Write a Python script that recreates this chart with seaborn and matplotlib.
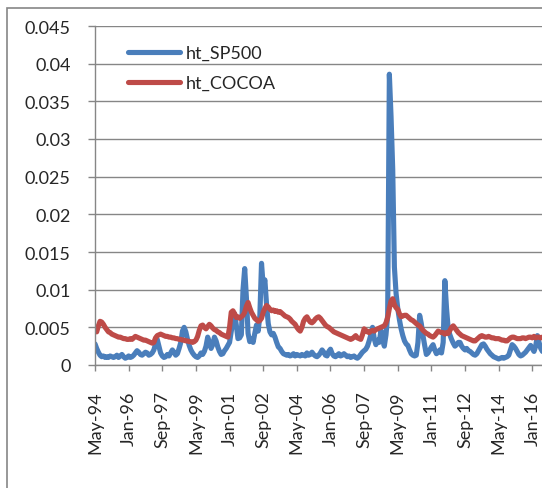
import numpy as np
import pandas as pd
import matplotlib
matplotlib.use("Agg")
import matplotlib.pyplot as plt
import seaborn as sns
from matplotlib.patches import Rectangle

sns.set_style("white")
plt.rcParams["font.family"] = ["Lato", "DejaVu Sans"]

# monthly observations, May-1994 onward
dates = pd.date_range("1994-05-01", periods=267, freq="MS")

ht_SP500 = [
    0.0028, 0.0022, 0.0017, 0.0013, 0.0011, 0.0012, 0.0010, 0.0011, 0.0010, 0.0012, 0.0011, 0.0010,
    0.0011, 0.0013, 0.0010, 0.0012, 0.0014, 0.0011, 0.0009, 0.0010, 0.0012, 0.0010, 0.0011, 0.0013,
    0.0016, 0.0019, 0.0017, 0.0014, 0.0013, 0.0015, 0.0017, 0.0016, 0.0013, 0.0014, 0.0016, 0.0020,
    0.0028, 0.0034, 0.0025, 0.0016, 0.0012, 0.0010, 0.0011, 0.0014, 0.0012, 0.0016, 0.0020, 0.0017,
    0.0013, 0.0015, 0.0022, 0.0030, 0.0045, 0.0050, 0.0044, 0.0034, 0.0026, 0.0020, 0.0016, 0.0013,
    0.0011, 0.0010, 0.0012, 0.0016, 0.0014, 0.0018, 0.0025, 0.0037, 0.0030, 0.0022, 0.0027, 0.0037,
    0.0032, 0.0024, 0.0018, 0.0014, 0.0015, 0.0019, 0.0022, 0.0026, 0.0030, 0.0045, 0.0059, 0.0068,
    0.0053, 0.0035, 0.0036, 0.0040, 0.0100, 0.0128, 0.0090, 0.0042, 0.0031, 0.0035, 0.0030, 0.0042,
    0.0053, 0.0045, 0.0065, 0.0135, 0.0105, 0.0113, 0.0080, 0.0055, 0.0044, 0.0040, 0.0042, 0.0037,
    0.0030, 0.0024, 0.0022, 0.0018, 0.0015, 0.0014, 0.0013, 0.0014, 0.0012, 0.0013, 0.0015, 0.0012,
    0.0014, 0.0013, 0.0012, 0.0014, 0.0013, 0.0012, 0.0016, 0.0013, 0.0014, 0.0017, 0.0014, 0.0012,
    0.0011, 0.0013, 0.0016, 0.0020, 0.0017, 0.0013, 0.0012, 0.0018, 0.0021, 0.0015, 0.0012, 0.0011,
    0.0013, 0.0015, 0.0012, 0.0013, 0.0015, 0.0013, 0.0011, 0.0012, 0.0010, 0.0011, 0.0012, 0.0010,
    0.0009, 0.0011, 0.0014, 0.0017, 0.0019, 0.0021, 0.0025, 0.0032, 0.0040, 0.0050, 0.0035, 0.0027,
    0.0033, 0.0030, 0.0046, 0.0035, 0.0025, 0.0040, 0.0066, 0.0386, 0.0330, 0.0260, 0.0130, 0.0095,
    0.0075, 0.0060, 0.0048, 0.0039, 0.0032, 0.0028, 0.0026, 0.0020, 0.0015, 0.0013, 0.0012, 0.0013,
    0.0030, 0.0066, 0.0055, 0.0039, 0.0026, 0.0014, 0.0016, 0.0020, 0.0024, 0.0027, 0.0020, 0.0015,
    0.0017, 0.0020, 0.0016, 0.0030, 0.0112, 0.0075, 0.0048, 0.0040, 0.0034, 0.0029, 0.0025, 0.0027,
    0.0030, 0.0030, 0.0025, 0.0022, 0.0020, 0.0022, 0.0019, 0.0018, 0.0016, 0.0014, 0.0013, 0.0015,
    0.0019, 0.0023, 0.0027, 0.0028, 0.0025, 0.0021, 0.0018, 0.0015, 0.0013, 0.0011, 0.0010, 0.0009,
    0.0008, 0.0009, 0.0010, 0.0009, 0.0010, 0.0011, 0.0013, 0.0020, 0.0027, 0.0025, 0.0022, 0.0018,
    0.0014, 0.0012, 0.0013, 0.0015, 0.0017, 0.0020, 0.0023, 0.0026, 0.0022, 0.0018, 0.0025, 0.0039,
    0.0030, 0.0022, 0.0018,
]

ht_COCOA = [
    0.0046, 0.0044, 0.0052, 0.0058, 0.0057, 0.0054, 0.0050, 0.0047, 0.0044, 0.0043, 0.0041, 0.0040,
    0.0039, 0.0038, 0.0037, 0.0037, 0.0036, 0.0035, 0.0035, 0.0034, 0.0034, 0.0035, 0.0034, 0.0036,
    0.0038, 0.0037, 0.0036, 0.0035, 0.0034, 0.0033, 0.0033, 0.0032, 0.0031, 0.0030, 0.0029, 0.0030,
    0.0036, 0.0039, 0.0040, 0.0041, 0.0040, 0.0039, 0.0038, 0.0038, 0.0037, 0.0037, 0.0036, 0.0036,
    0.0035, 0.0035, 0.0034, 0.0034, 0.0033, 0.0033, 0.0032, 0.0032, 0.0031, 0.0031, 0.0030, 0.0031,
    0.0033, 0.0038, 0.0046, 0.0052, 0.0053, 0.0050, 0.0048, 0.0051, 0.0054, 0.0052, 0.0049, 0.0047,
    0.0046, 0.0044, 0.0043, 0.0041, 0.0040, 0.0039, 0.0038, 0.0037, 0.0050, 0.0070, 0.0072, 0.0068,
    0.0063, 0.0064, 0.0062, 0.0064, 0.0066, 0.0070, 0.0078, 0.0083, 0.0076, 0.0070, 0.0066, 0.0062,
    0.0060, 0.0058, 0.0059, 0.0062, 0.0070, 0.0075, 0.0079, 0.0077, 0.0074, 0.0072, 0.0073, 0.0071,
    0.0072, 0.0070, 0.0071, 0.0069, 0.0067, 0.0065, 0.0064, 0.0063, 0.0061, 0.0058, 0.0056, 0.0054,
    0.0050, 0.0047, 0.0045, 0.0050, 0.0058, 0.0062, 0.0064, 0.0060, 0.0057, 0.0056, 0.0058, 0.0061,
    0.0063, 0.0064, 0.0062, 0.0059, 0.0056, 0.0053, 0.0051, 0.0050, 0.0048, 0.0046, 0.0044, 0.0043,
    0.0042, 0.0041, 0.0040, 0.0039, 0.0038, 0.0037, 0.0036, 0.0035, 0.0034, 0.0035, 0.0037, 0.0039,
    0.0036, 0.0035, 0.0034, 0.0040, 0.0048, 0.0046, 0.0044, 0.0043, 0.0045, 0.0046, 0.0045, 0.0047,
    0.0048, 0.0049, 0.0050, 0.0051, 0.0052, 0.0056, 0.0063, 0.0075, 0.0085, 0.0088, 0.0080, 0.0076,
    0.0074, 0.0068, 0.0064, 0.0065, 0.0066, 0.0066, 0.0064, 0.0062, 0.0060, 0.0059, 0.0057, 0.0055,
    0.0053, 0.0052, 0.0049, 0.0046, 0.0044, 0.0042, 0.0041, 0.0039, 0.0038, 0.0037, 0.0039, 0.0042,
    0.0045, 0.0044, 0.0043, 0.0043, 0.0041, 0.0043, 0.0042, 0.0046, 0.0050, 0.0052, 0.0049, 0.0046,
    0.0043, 0.0041, 0.0039, 0.0038, 0.0037, 0.0036, 0.0035, 0.0034, 0.0033, 0.0032, 0.0032, 0.0034,
    0.0036, 0.0038, 0.0039, 0.0038, 0.0037, 0.0037, 0.0038, 0.0037, 0.0036, 0.0036, 0.0035, 0.0035,
    0.0035, 0.0034, 0.0033, 0.0033, 0.0032, 0.0032, 0.0034, 0.0036, 0.0037, 0.0037, 0.0036, 0.0035,
    0.0035, 0.0035, 0.0036, 0.0036, 0.0035, 0.0036, 0.0037, 0.0037, 0.0036, 0.0038, 0.0036, 0.0037,
    0.0037, 0.0036, 0.0037,
]

tick_labels = ["May-94", "Jan-96", "Sep-97", "May-99", "Jan-01", "Sep-02", "May-04",
               "Jan-06", "Sep-07", "May-09", "Jan-11", "Sep-12", "May-14", "Jan-16"]
y_ticks = [0, 0.005, 0.01, 0.015, 0.02, 0.025, 0.03, 0.035, 0.04, 0.045]
y_tick_labels = ["0", "0.005", "0.01", "0.015", "0.02", "0.025", "0.03", "0.035", "0.04", "0.045"]

n = len(dates)
month_idx = np.arange(n)
df = pd.DataFrame({
    "month": np.concatenate([month_idx, month_idx]),
    "value": ht_SP500[:n] + ht_COCOA[:n],
    "series": ["ht_SP500"] * n + ["ht_COCOA"] * n,
})

W, H = 542, 489
fig = plt.figure(figsize=(W / 100, H / 100), dpi=100)
fig.patch.set_facecolor("white")

px_per_month = 1.682
ax = fig.add_axes([95 / W, 123 / H, (W - 95) / W, 339 / H])
sns.lineplot(data=df, x="month", y="value", hue="series",
             palette={"ht_SP500": "#4A7EBB", "ht_COCOA": "#BE4B48"},
             linewidth=3.7, ax=ax, legend=True)

ax.set_xlim(0, (W - 95) / px_per_month)
ax.set_ylim(0, 0.045)
ax.set_yticks(y_ticks)
ax.set_yticklabels(y_tick_labels)
ax.set_xticks(np.arange(0, n, 20)[:len(tick_labels)])
ax.set_xticklabels(tick_labels, rotation=90)
ax.set_xlabel("")
ax.set_ylabel("")

grid_c = "#868686"
ax.yaxis.grid(True, color=grid_c, linewidth=1.0)
ax.xaxis.grid(False)
ax.set_axisbelow(True)
for s in ["top", "right"]:
    ax.spines[s].set_visible(False)
for s in ["left", "bottom"]:
    ax.spines[s].set_color(grid_c)
    ax.spines[s].set_linewidth(1.0)
ax.tick_params(axis="y", direction="out", length=5, width=1, color=grid_c,
               pad=12.5, labelsize=13, left=True)
ax.tick_params(axis="x", direction="out", length=4.3, width=1, color=grid_c,
               pad=14, labelsize=13, bottom=True)

old = ax.get_legend()
handles = old.legend_handles
labels = [t.get_text() for t in old.get_texts()]
old.remove()
leg = ax.legend(handles, labels, loc="upper left",
                bbox_to_anchor=(128 / W, (H - 46) / H), bbox_transform=fig.transFigure,
                frameon=False, fontsize=13, handlelength=2.9, handletextpad=0.3,
                labelspacing=0.78, borderpad=0, borderaxespad=0)
for h in leg.legend_handles:
    h.set_linewidth(3.7)

fig.add_artist(Rectangle((7 / W, -0.5), 2.0, (H - 9) / H + 0.5,
                         transform=fig.transFigure, fill=False,
                         edgecolor=grid_c, linewidth=1.2, clip_on=False))

fig.savefig("out.png", dpi=100, facecolor="white")
